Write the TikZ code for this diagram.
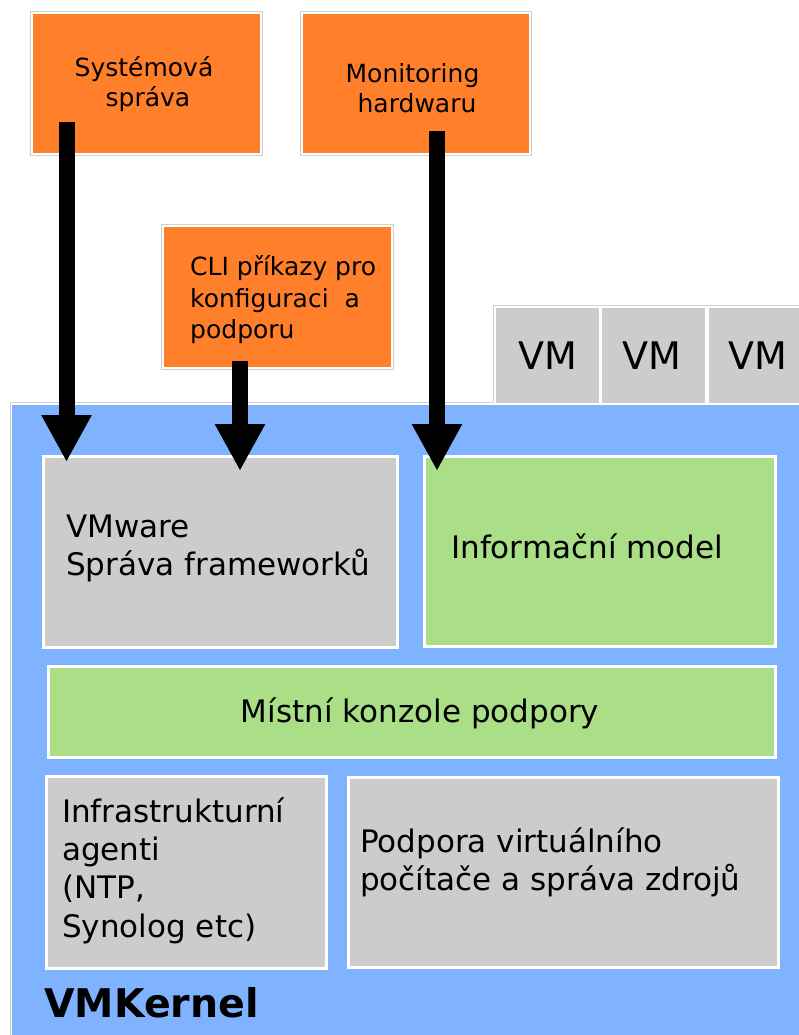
\documentclass[tikz,border=0pt]{standalone}
\usepackage{fontspec}
\setmainfont{DejaVu Sans}
\usetikzlibrary{arrows.meta,fit}
\definecolor{org}{HTML}{FF7F2A}
\definecolor{blu}{HTML}{80B3FF}
\definecolor{grn}{HTML}{AADE87}
\definecolor{gry}{HTML}{CCCCCC}
\definecolor{frm}{HTML}{D0D0D0}
\begin{document}
\begin{tikzpicture}[x=1pt,y=-1pt,
  obox/.style={draw=white, line width=2.5pt, fill=org, inner sep=0pt},
  ibox/.style={draw=white, line width=3pt, inner sep=0pt},
  grayframe/.style={draw=frm, line width=1pt},
  otext/.style={inner sep=0pt, font=\fontsize{25}{30}\selectfont},
  itext/.style={inner sep=0pt, font=\fontsize{31}{38}\selectfont},
  vmbox/.style={fill=gry, inner sep=0pt},
  vmtext/.style={inner sep=0pt, anchor=base, font=\fontsize{38}{44}\selectfont},
  bigarrow/.style={line width=16pt, -{Triangle[width=47pt,length=47pt]}},
]
\useasboundingbox[fill=white] (0,0) rectangle (799,1035);

% top management boxes
\node[obox, fit={(32,13)(261,154)}] (sys) {};
\draw[grayframe] (sys.north west) rectangle (sys.south east);
\node[obox, fit={(302,13)(530,154)}] (mon) {};
\draw[grayframe] (mon.north west) rectangle (mon.south east);
\node[obox, fit={(163,226)(392,368)}] (cli) {};
\draw[grayframe] (cli.north west) rectangle (cli.south east);

\node[otext, anchor=base] (sys1) at (144,77) {Systémová};
\node[otext, anchor=base] (sys2) at (148,107) {správa};
\node[otext, anchor=base] (mon1) at (412.5,83) {Monitoring};
\node[otext, anchor=base] (mon2) at (417,113) {hardwaru};
\node[otext, anchor=base west] (cli1) at (190,275) {CLI příkazy pro};
\node[otext, anchor=base west] (cli2) at (190,307) {konfiguraci\ \ a};
\node[otext, anchor=base west] (cli3) at (190,338) {podporu};

% kernel area and VM tab
\draw[grayframe] (10.5,1040) -- (10.5,402.5) -- (493.5,402.5) -- (493.5,305.5) -- (805,305.5);
\node[fill=blu, inner sep=0pt, fit={(12,405)(805,1040)}] (kernel) {};
\node[vmbox, fit={(496,308)(599,403)}] (vm1) {};
\node[vmbox, fit={(602,308)(705,403)}] (vm2) {};
\node[vmbox, fit={(709,308)(808,403)}] (vm3) {};
\node[vmtext] (vm1t) at (548,369) {VM};
\node[vmtext] (vm2t) at (652,369) {VM};
\node[vmtext] (vm3t) at (758,369) {VM};

% inner boxes
\node[ibox, fill=gry, fit={(43.5,456.5)(397.5,647.5)}] (fw) {};
\node[ibox, fill=grn, fit={(424.5,456.5)(775.5,646.5)}] (info) {};
\node[ibox, fill=grn, fit={(48.5,666.5)(775.5,757.5)}] (kon) {};
\node[ibox, fill=gry, fit={(46.5,776.5)(326.5,968.5)}] (infra) {};
\node[ibox, fill=gry, fit={(348.5,777.5)(778.5,967.5)}] (vmsup) {};

\node[itext, anchor=base west] (fw1) at (66,537) {VMware};
\node[itext, anchor=base west] (fw2) at (66,575) {Správa frameworků};
\node[itext, anchor=base west] (info1) at (451,558) {Informační model};
\node[itext, anchor=base] (kon1) at (420,722) {Místní konzole podpory};
\node[itext, anchor=base west] (inf1) at (62,822) {Infrastrukturní};
\node[itext, anchor=base west] (inf2) at (62,860) {agenti};
\node[itext, anchor=base west] (inf3) at (62,898) {(NTP,};
\node[itext, anchor=base west] (inf4) at (62,937) {Synolog etc)};
\node[itext, anchor=base west] (vs1) at (360,852) {Podpora virtuálního};
\node[itext, anchor=base west] (vs2) at (360,890) {počítače a správa zdrojů};
\node[anchor=base west, inner sep=0pt, font=\bfseries\fontsize{39.5}{44}\selectfont] (vmk) at (44,1017) {VMKernel};

% arrows
\coordinate (a1s) at (66.5,122);
\coordinate (a1e) at (66.5,462);
\coordinate (a2s) at (240,361);
\coordinate (a2e) at (240,471);
\coordinate (a3s) at (437,131);
\coordinate (a3e) at (437,471);
\draw[bigarrow] (a1s) -- (a1e);
\draw[bigarrow] (a2s) -- (a2e);
\draw[bigarrow] (a3s) -- (a3e);
\end{tikzpicture}
\end{document}
